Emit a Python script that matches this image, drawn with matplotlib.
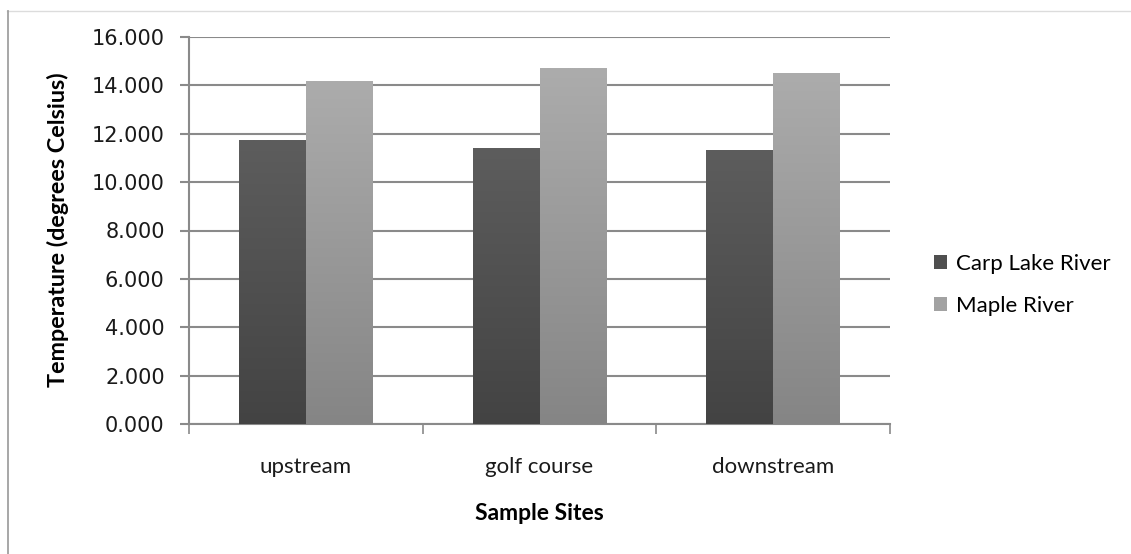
import numpy as np
import matplotlib
matplotlib.use("Agg")
import matplotlib.pyplot as plt
from matplotlib.lines import Line2D
from matplotlib.patches import Patch

# ---- data ----
sites = ["upstream", "golf course", "downstream"]
series = ["Carp Lake River", "Maple River"]
carp_lake = [11.74, 11.40, 11.33]
maple = [14.18, 14.70, 14.52]
yticks = [0, 2, 4, 6, 8, 10, 12, 14, 16]

# top / bottom colours of the vertical gradient in each bar
GRAD = {
    "Carp Lake River": ("#5d5d5d", "#434343"),
    "Maple River": ("#acacac", "#858585"),
}
LEGEND_COL = {"Carp Lake River": "#4f4f4f", "Maple River": "#a2a2a2"}

W, H = 1131, 554
fig = plt.figure(figsize=(W / 100, H / 100), dpi=100)
ax = fig.add_axes([189 / W, 1 - 424 / H, 701 / W, 387 / H])

x = np.arange(len(sites))
bw = 1 / 3.5  # Excel gap width 150%


def gradient_bars(xpos, vals, name):
    top, bot = GRAD[name]
    c0 = np.array(matplotlib.colors.to_rgb(top))
    c1 = np.array(matplotlib.colors.to_rgb(bot))
    t = np.linspace(0, 1, 256)[:, None]
    img = (c0[None, :] * (1 - t) + c1[None, :] * t)[:, None, :]
    bars = ax.bar(xpos, vals, bw, color="none", edgecolor="none", zorder=3)
    for b in bars:
        x0, y0 = b.get_x(), b.get_y()
        im = ax.imshow(img, extent=[x0, x0 + b.get_width(), y0, y0 + b.get_height()],
                       aspect="auto", origin="upper", zorder=3, interpolation="bilinear")
        im.set_clip_path(b)
    return bars


gradient_bars(x - bw / 2, carp_lake, series[0])
gradient_bars(x + bw / 2, maple, series[1])

ax.set_xlim(-0.5, len(sites) - 0.5)
ax.set_ylim(0, 16)
ax.set_yticks(yticks)
ax.set_yticklabels([f"{v:.3f}" for v in yticks], fontsize=15, family="DejaVu Sans",
                   color="#1a1a1a")
ax.yaxis.grid(True, color="#8a8a8a", lw=1.5, zorder=0)
ax.set_axisbelow(True)

ax.set_xticks(x)
ax.set_xticklabels(sites, fontsize=16, family="Lato", color="#1a1a1a")
ax.set_xticks(np.arange(-0.5, len(sites)), minor=True)
ax.tick_params(axis="x", which="major", length=0, pad=24)
ax.tick_params(axis="x", which="minor", length=7, width=1.2, color="#8a8a8a", direction="out")
ax.tick_params(axis="y", length=6.5, width=1.5, color="#8a8a8a", direction="out", pad=11)

for s in ["top", "right"]:
    ax.spines[s].set_visible(False)
for s in ["left", "bottom"]:
    ax.spines[s].set_color("#8a8a8a")
    ax.spines[s].set_linewidth(1.5)

ax.set_ylabel("Temperature (degrees Celsius)", fontsize=16.8, fontweight="bold",
              family="Lato", va="center")
ax.yaxis.set_label_coords(-(189 - 58) / 701, 1 - (230 - 37) / 387)
ax.set_xlabel("Sample Sites", fontsize=16.5, fontweight="bold", family="Lato", va="center")
ax.xaxis.set_label_coords(0.5, -(514 - 424) / 387)

handles = [Patch(facecolor=LEGEND_COL[n], edgecolor="none") for n in series]
fig.legend(handles, series, loc="center left", bbox_to_anchor=(914 / W, 1 - 285 / H),
           frameon=False, prop={"family": "Lato", "size": 16}, handlelength=0.6,
           handleheight=0.6, handletextpad=0.4, labelspacing=1.0)

# outer chart frame (only top and left visible in the crop)
fig.add_artist(Line2D([7 / W, 1], [1 - 10.5 / H] * 2, transform=fig.transFigure,
                      color="#dcdcdc", lw=1))
fig.add_artist(Line2D([7.5 / W] * 2, [0, 1 - 10.5 / H], transform=fig.transFigure,
                      color="#a0a0a0", lw=1.3))

fig.savefig("out.png", dpi=100)
